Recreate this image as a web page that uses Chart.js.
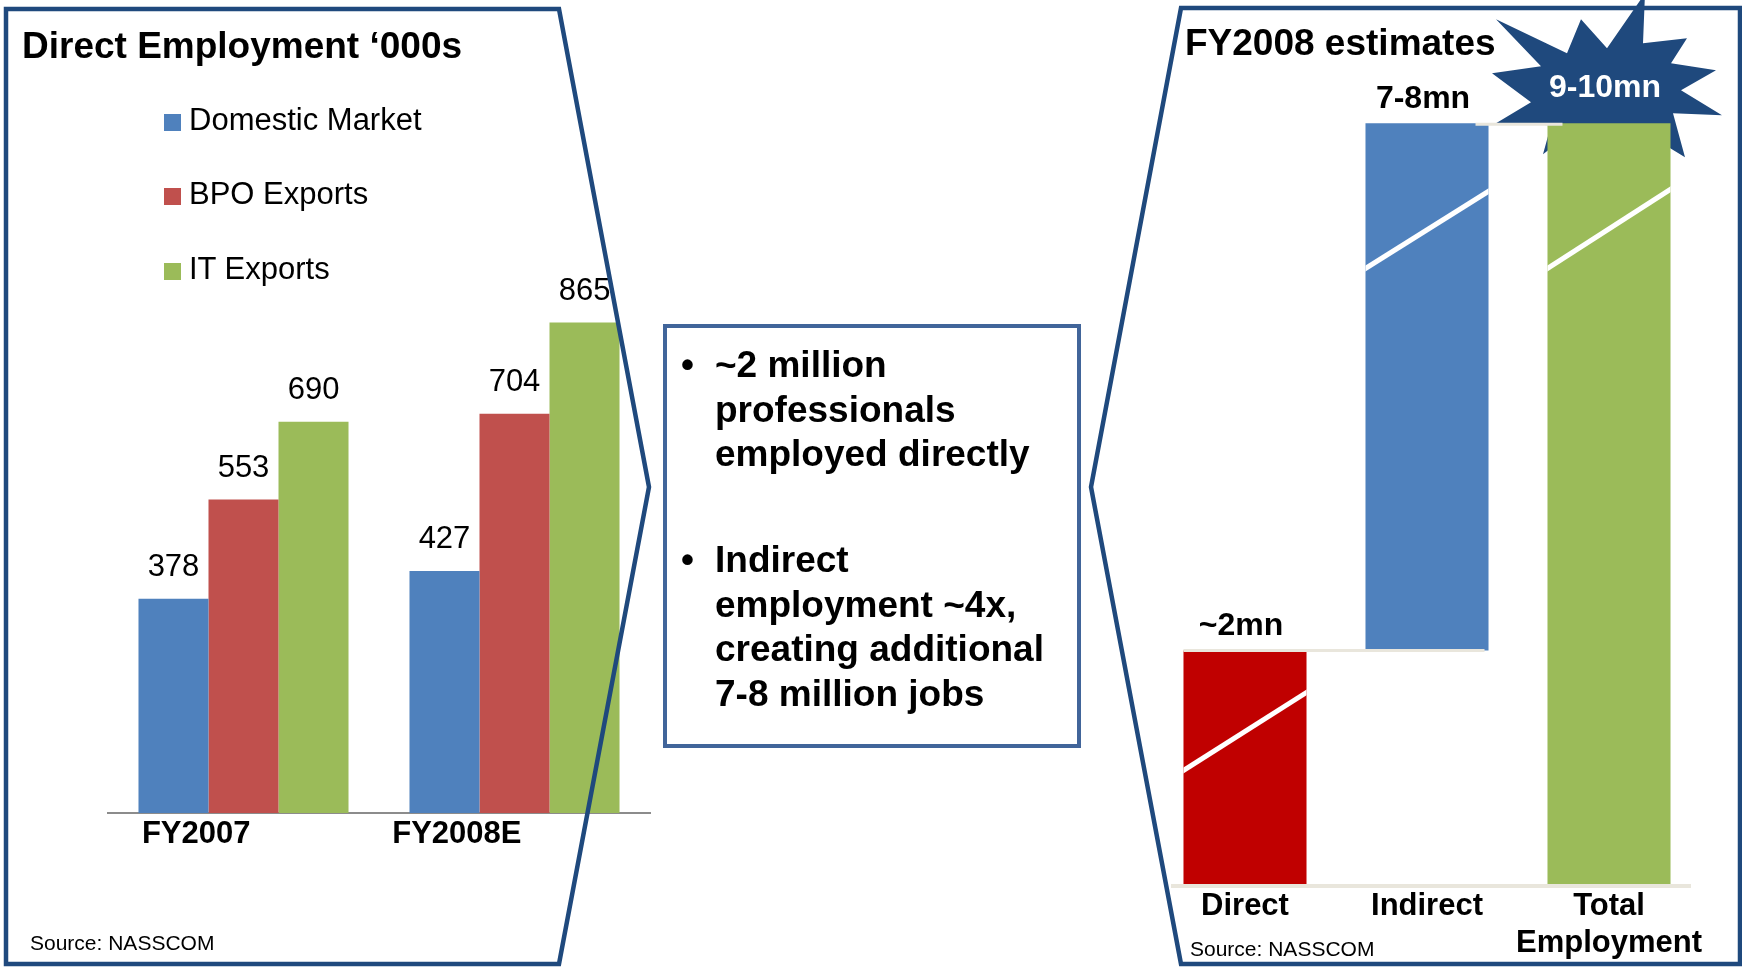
<!DOCTYPE html>
<html>
<head>
<meta charset="utf-8">
<title>Direct Employment / FY2008 estimates</title>
<script src="https://cdn.jsdelivr.net/npm/chart.js@4.4.1/dist/chart.umd.min.js"></script>
<style>
  html, body { margin: 0; padding: 0; background: #fff; }
  body {
    position: relative; width: 1742px; height: 968px; overflow: hidden;
    font-family: "Liberation Sans", Arial, sans-serif; color: #000;
  }
  canvas { position: absolute; left: 0; top: 0; }
  .txt { position: absolute; white-space: nowrap; }
  .titulo { font-size: 37px; font-weight: bold; line-height: 44px; }
  .fonte { font-size: 21px; line-height: 26px; }
  #legenda { position: absolute; left: 164px; top: 0; }
  .leg-item { position: absolute; left: 0; height: 40px; line-height: 40px; font-size: 31px; white-space: nowrap; }
  .leg-item i { display: inline-block; width: 17px; height: 17px; margin-right: 8px; vertical-align: -1px; }
  #caixa {
    position: absolute; left: 663px; top: 324px; width: 410px; height: 416px;
    border: 4px solid #41659A; box-sizing: content-box;
  }
  .bloco { position: absolute; left: 0; font-size: 37px; font-weight: bold; line-height: 44.5px; }
  .bloco .bala { position: absolute; left: 14px; top: 0; }
  .bloco .linhas { position: absolute; left: 48px; top: 0; white-space: nowrap; }
  svg { position: absolute; left: 0; top: 0; pointer-events: none; }
</style>
</head>
<body>

<canvas id="directChart" width="1742" height="968"></canvas>
<canvas id="estChart" width="1742" height="968"></canvas>

<div class="txt titulo" style="left:22px; top:24px;">Direct Employment ‘000s</div>
<div id="legenda"></div>
<div class="txt fonte" style="left:30px; top:930px;">Source: NASSCOM</div>

<div id="caixa">
  <div class="bloco" style="top:15px;">
    <span class="bala">•</span>
    <span class="linhas">~2 million<br>professionals<br>employed directly</span>
  </div>
  <div class="bloco" style="top:210px;">
    <span class="bala">•</span>
    <span class="linhas">Indirect<br>employment ~4x,<br>creating additional<br>7-8 million jobs</span>
  </div>
</div>

<div class="txt titulo" style="left:1185px; top:21px;">FY2008 estimates</div>
<div class="txt fonte" style="left:1190px; top:936px;">Source: NASSCOM</div>

<!-- panel outlines sit above both canvases -->
<svg width="1742" height="968">
  <polygon points="6,9 559,9 649,487 559,964 6,964" fill="none" stroke="#1F497D" stroke-width="4.5" stroke-linejoin="miter"/>
  <polygon points="1181,8 1740,8 1740,964 1181,964 1091,487" fill="none" stroke="#1F497D" stroke-width="4.5" stroke-linejoin="miter"/>
</svg>

<script>
"use strict";

/* ================================
   DATA — direct employment ('000s)
   ================================ */
const anos = ["FY2007", "FY2008E"];
const domesticMarket = [378, 427];
const bpoExports = [553, 704];
const itExports = [690, 865];

/* ================================
   DATA — FY2008 estimates (million)
   ================================ */
const estCategorias = ["Direct", "Indirect", ["Total", "Employment"]];
const estMilhoes = [2, 7.5, 9.5];
const estRotulos = ["~2mn", "7-8mn", "9-10mn"];

/* ================================
   CONFIG
   ================================ */
const FONTE = "'Liberation Sans', Arial, sans-serif";
const COR_AZUL = "#4F81BD";
const COR_VERMELHO = "#C0504D";
const COR_VERDE = "#9BBB59";
const COR_DIRECT = "#C00000";
const COR_ESTRELA = "#1F497D";
const COR_BEGE = "#E9E6DC";

// starburst outline, offsets from the top centre of the total bar
const ESTRELA = [
  [-113, -104], [-42, -70], [-28, -104], [-2, -75], [36, -130], [34, -80],
  [78, -85], [62, -60], [107, -53], [72, -33], [113, -8], [64, -10],
  [76, 34], [40, 12], [0, 27], [-35, 7], [-66, 31], [-58, 2],
  [-113, 0], [-78, -21], [-117, -50], [-68, -57]
];

// white "break" strokes: [offset below top at left edge, at right edge]
const QUEBRAS = [[120, 42], [145, 68], [145, 66]];

function $(id) { return document.getElementById(id); }

Chart.defaults.font.family = FONTE;
Chart.defaults.color = "#000";

/* ================================
   LEFT — grouped bars
   ================================ */
const valoresPlugin = {
  id: "valores",
  afterDatasetsDraw(chart) {
    const ctx = chart.ctx;
    ctx.save();
    ctx.font = "31px " + FONTE;
    ctx.fillStyle = "#000";
    ctx.textAlign = "center";
    ctx.textBaseline = "middle";
    chart.data.datasets.forEach((ds, i) => {
      chart.getDatasetMeta(i).data.forEach((bar, j) => {
        ctx.fillText(String(ds.data[j]), bar.x, bar.y - 31);
      });
    });
    ctx.restore();
  }
};

const directChart = new Chart($("directChart").getContext("2d"), {
  type: "bar",
  data: {
    labels: anos,
    datasets: [
      { label: "Domestic Market", data: domesticMarket, backgroundColor: COR_AZUL },
      { label: "BPO Exports", data: bpoExports, backgroundColor: COR_VERMELHO },
      { label: "IT Exports", data: itExports, backgroundColor: COR_VERDE }
    ]
  },
  options: {
    responsive: false,
    animation: false,
    layout: { padding: { left: 108, right: 1092, top: 246, bottom: 105 } },
    datasets: { bar: { barPercentage: 1, categoryPercentage: 0.775, borderWidth: 0 } },
    plugins: { legend: { display: false }, title: { display: false }, tooltip: { enabled: false } },
    scales: {
      x: {
        grid: { display: false, drawTicks: false },
        border: { display: true, color: "#8C8C8C", width: 2 },
        ticks: {
          font: { size: 31, weight: "bold" }, padding: 3,
          align: "end", labelOffset: 7, autoSkip: false, maxRotation: 0
        },
        afterFit(scale) { scale.height = 50; }
      },
      y: { display: false, min: 0, max: 1000 }
    }
  },
  plugins: [valoresPlugin]
});

// legend built from the chart's own datasets
(function montarLegenda() {
  const topos = [100, 174, 249];
  const box = $("legenda");
  directChart.data.datasets.forEach((ds, i) => {
    const item = document.createElement("div");
    item.className = "leg-item";
    item.style.top = topos[i] + "px";
    const sq = document.createElement("i");
    sq.style.background = ds.backgroundColor;
    item.appendChild(sq);
    item.appendChild(document.createTextNode(ds.label));
    box.appendChild(item);
  });
})();

/* ================================
   RIGHT — waterfall of estimates
   ================================ */
// direct from the floor, indirect floats on top of direct, total from the floor
const estBarras = [
  estMilhoes[0],
  [estMilhoes[0], estMilhoes[0] + estMilhoes[1]],
  estMilhoes[2]
];

const estDecor = {
  id: "estDecor",
  beforeDatasetsDraw(chart) {
    const total = chart.getDatasetMeta(0).data[2];
    const ctx = chart.ctx;
    ctx.save();
    ctx.beginPath();
    ESTRELA.forEach(([dx, dy], i) => {
      if (i === 0) ctx.moveTo(total.x + dx, total.y + dy);
      else ctx.lineTo(total.x + dx, total.y + dy);
    });
    ctx.closePath();
    ctx.fillStyle = COR_ESTRELA;
    ctx.fill();
    ctx.restore();
  },
  afterDatasetsDraw(chart) {
    const ctx = chart.ctx;
    const area = chart.chartArea;
    const barras = chart.getDatasetMeta(0).data;
    ctx.save();

    // break marks
    ctx.strokeStyle = "#fff";
    ctx.lineWidth = 5;
    barras.forEach((b, i) => {
      const l = b.x - b.width / 2;
      const r = b.x + b.width / 2;
      ctx.save();
      ctx.beginPath();
      ctx.rect(l, b.y, b.width, b.base - b.y);
      ctx.clip();
      ctx.beginPath();
      ctx.moveTo(l - 2, b.y + QUEBRAS[i][0] + 1.3);
      ctx.lineTo(r + 2, b.y + QUEBRAS[i][1] - 1.3);
      ctx.stroke();
      ctx.restore();
    });

    // connectors and floor line
    ctx.strokeStyle = COR_BEGE;
    ctx.lineWidth = 3;
    ctx.beginPath();
    ctx.moveTo(barras[0].x - barras[0].width / 2, barras[0].y);
    ctx.lineTo(barras[1].x + barras[1].width / 2 - 4, barras[0].y);
    ctx.moveTo(barras[1].x + barras[1].width / 2 - 13, barras[1].y + 1);
    ctx.lineTo(barras[2].x - barras[2].width / 2 + 15, barras[1].y + 1);
    ctx.stroke();

    ctx.lineWidth = 4;
    ctx.beginPath();
    ctx.moveTo(area.left + 17, area.bottom + 1);
    ctx.lineTo(area.right - 9, area.bottom + 1);
    ctx.stroke();

    // value labels
    ctx.font = "bold 32px " + FONTE;
    ctx.textAlign = "center";
    ctx.textBaseline = "middle";
    barras.forEach((b, i) => {
      const naEstrela = i === 2;
      ctx.fillStyle = naEstrela ? "#fff" : "#000";
      ctx.fillText(estRotulos[i], b.x - 4, b.y - (naEstrela ? 35 : 24));
    });
    ctx.restore();
  }
};

const estChart = new Chart($("estChart").getContext("2d"), {
  type: "bar",
  data: {
    labels: estCategorias,
    datasets: [{
      label: "FY2008 estimates",
      data: estBarras,
      backgroundColor: [COR_DIRECT, COR_AZUL, COR_VERDE],
      borderWidth: 0,
      borderSkipped: false
    }]
  },
  options: {
    responsive: false,
    animation: false,
    layout: { padding: { left: 1154, right: 42, top: 106, bottom: 3 } },
    datasets: { bar: { barPercentage: 1, categoryPercentage: 0.676 } },
    plugins: { legend: { display: false }, title: { display: false }, tooltip: { enabled: false } },
    scales: {
      x: {
        grid: { display: false, drawTicks: false },
        border: { display: false },
        ticks: { font: { size: 31, weight: "bold" }, padding: 3, autoSkip: false, maxRotation: 0 },
        afterFit(scale) { scale.height = 80; }
      },
      // compressed (broken) value axis
      y: { type: "logarithmic", display: false, min: 1, max: 10 }
    }
  },
  plugins: [estDecor]
});
</script>
</body>
</html>
